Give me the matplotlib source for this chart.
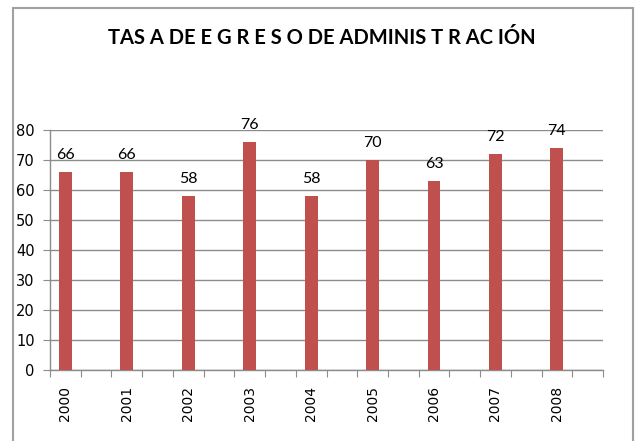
import matplotlib.pyplot as plt
import numpy as np
from matplotlib.patches import Rectangle

years = ["2000", "2001", "2002", "2003", "2004", "2005", "2006", "2007", "2008"]
tasa = [66, 66, 58, 76, 58, 70, 63, 72, 74]
titulo = "TAS A DE E G R E S O DE ADMINIS T R AC IÓN"

bar_color = "#C0504D"
grid_color = "#8C8C8C"

fig = plt.figure(figsize=(6.36, 4.41), dpi=100)
ax = fig.add_axes([50/636, 71/441, 553/636, 240/441])

# each year sits in its own slot with an empty slot after it
n_slots = 2 * len(years)
pos = np.arange(len(years)) * 2 + 0.5
bars = ax.bar(pos, tasa, width=0.42, color=bar_color, zorder=3)
ax.bar_label(bars, labels=[str(v) for v in tasa], padding=7,
             fontsize=11.5, family="Lato", color="black")

ax.set_xlim(0, n_slots)
ax.set_ylim(0, 80)
ax.set_yticks(range(0, 81, 10))
ax.yaxis.grid(True, color=grid_color, linewidth=1.0, zorder=0)
ax.set_axisbelow(True)

ax.set_xticks(range(0, n_slots + 1))
ax.set_xticklabels([])
ax.set_xticks(pos, minor=True)
ax.set_xticklabels(years, minor=True, rotation=90, fontsize=10)
ax.tick_params(axis="x", which="major", length=5, color=grid_color, direction="out")
ax.tick_params(axis="x", which="minor", length=0, pad=11.5)
ax.tick_params(axis="y", length=5, color=grid_color, direction="out", labelsize=10.5, pad=6)

for side in ["top", "right"]:
    ax.spines[side].set_visible(False)
for side in ["left", "bottom"]:
    ax.spines[side].set_color(grid_color)
    ax.spines[side].set_linewidth(1.0)

fig.text(322/636, 1 - 38/441, titulo,
         ha="center", va="center", fontsize=14.5, fontweight="bold", family="Lato")

# chart frame
fig.patches.append(Rectangle((13/636, -0.1), 620/636, 1.1 - 8/441,
                             transform=fig.transFigure, fill=False,
                             edgecolor="#A0A0A0", linewidth=1.5))

fig.savefig("out.png", dpi=100)
